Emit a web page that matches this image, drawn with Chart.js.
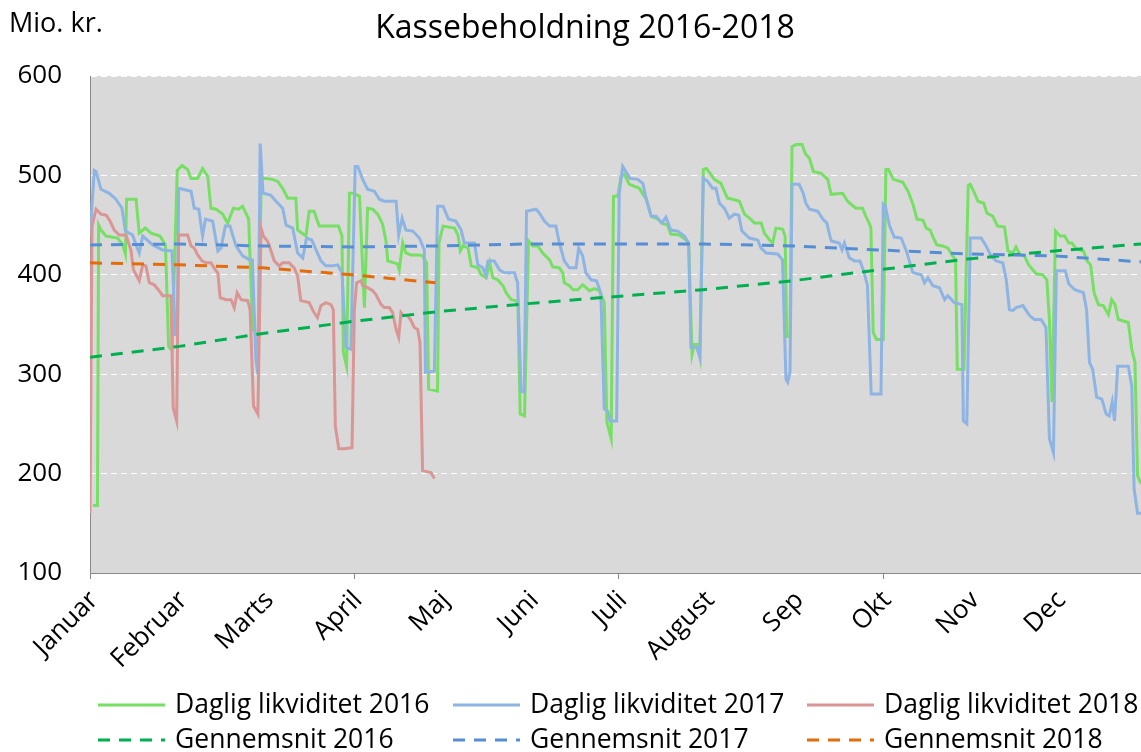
<!DOCTYPE html>
<html>
<head>
<meta charset="utf-8">
<title>Kassebeholdning 2016-2018</title>
<script src="https://cdn.jsdelivr.net/npm/chart.js@4.4.1/dist/chart.umd.min.js"></script>
<style>
  html, body { margin: 0; padding: 0; background: #fff; }
  canvas { display: block; }
</style>
</head>
<body>
<canvas id="kasseChart" width="1141" height="752"></canvas>
<script>
// x = day of the year, y = mio. kr.
const monthDays = [0, 31, 61, 91.7, 122, 153, 183.7, 214, 245, 275.4, 306, 336];
const monthNames = ['Januar', 'Februar', 'Marts', 'April', 'Maj', 'Juni', 'Juli', 'August', 'Sep', 'Okt', 'Nov', 'Dec'];
const yTicks = [100, 200, 300, 400, 500, 600];

const days16 = [1.0, 2.6, 3.0, 3.8, 5.6, 9.6, 11.4, 12.3, 12.7, 16.0, 17.1, 19.2, 21.2, 24.3, 26.2, 27.3, 28.5, 30.3, 32.0, 33.9, 35.1, 37.4, 39.1, 40.9, 42.0, 43.8, 46.1, 47.8, 49.8, 51.6, 53.0, 55.1, 56.5, 58.5, 59.5, 61.1, 63.4, 65.2, 66.9, 68.7, 71.5, 72.1, 75.0, 76.1, 77.8, 79.6, 86.3, 87.5, 88.0, 89.1, 90.1, 91.5, 93.6, 95.3, 96.4, 98.2, 99.9, 101.6, 102.8, 103.4, 106.8, 107.4, 108.6, 109.7, 111.5, 114.4, 115.5, 116.9, 117.6, 120.7, 121.2, 122.6, 126.6, 127.8, 128.6, 129.5, 131.3, 132.4, 134.7, 135.9, 137.6, 138.8, 139.9, 141.6, 143.4, 144.5, 146.3, 147.8, 148.6, 149.4, 150.9, 152.3, 153.8, 155.5, 157.2, 159.6, 160.7, 163.0, 164.2, 164.7, 166.5, 167.7, 169.4, 171.1, 173.5, 175.2, 176.9, 178.6, 179.5, 181.0, 181.8, 183.3, 184.4, 185.6, 187.3, 190.8, 192.0, 193.1, 194.9, 197.2, 198.6, 200.6, 201.7, 204.7, 207.0, 207.9, 209.1, 209.9, 211.0, 211.8, 213.0, 214.1, 215.6, 216.8, 219.1, 221.4, 223.2, 225.5, 227.3, 229.0, 230.8, 233.1, 234.2, 236.0, 237.1, 238.2, 240.5, 241.4, 242.0, 243.1, 243.8, 245.2, 247.3, 248.4, 249.9, 251.2, 253.9, 256.2, 257.4, 261.4, 263.1, 264.3, 266.0, 268.3, 269.4, 270.6, 271.2, 272.0, 273.1, 275.5, 276.4, 277.3, 279.0, 282.3, 284.1, 285.8, 287.2, 289.3, 290.4, 291.8, 292.9, 294.1, 296.1, 297.9, 299.6, 300.6, 301.2, 303.5, 305.0, 305.7, 306.9, 308.4, 310.4, 311.5, 313.5, 315.2, 317.6, 318.8, 320.5, 321.6, 322.8, 324.5, 326.0, 328.6, 330.9, 332.3, 333.2, 334.1, 335.3, 336.9, 338.5, 339.9, 341.0, 342.5, 345.0, 346.3, 347.5, 348.7, 350.2, 351.9, 353.7, 354.8, 356.0, 357.1, 360.6, 361.8, 362.9, 363.8, 365.0];
const liq16 = [168, 168, 450, 445, 439, 437, 430, 421, 476, 476, 442, 447, 442, 439, 430, 328, 324, 505, 510, 506, 497, 497, 507, 499, 467, 466, 461, 452, 467, 466, 469, 456, 345, 340, 497, 497, 496, 494, 487, 477, 477, 445, 439, 464, 464, 449, 449, 439, 322, 308, 482, 482, 479, 367, 467, 466, 461, 451, 434, 414, 411, 405, 432, 422, 420, 420, 419, 412, 285, 283, 432, 449, 447, 440, 424, 429, 427, 409, 407, 400, 397, 412, 397, 395, 389, 382, 375, 374, 372, 260, 258, 434, 429, 429, 422, 415, 408, 407, 402, 392, 389, 385, 385, 390, 384, 386, 384, 372, 252, 235, 479, 479, 499, 501, 491, 487, 481, 477, 459, 456, 452, 450, 441, 440, 435, 432, 320, 330, 330, 318, 506, 507, 501, 496, 492, 477, 476, 474, 461, 457, 452, 452, 442, 435, 432, 447, 446, 439, 338, 338, 529, 531, 531, 522, 517, 504, 502, 496, 481, 482, 474, 471, 467, 467, 459, 452, 447, 342, 335, 335, 506, 506, 496, 493, 484, 471, 456, 455, 447, 445, 437, 430, 429, 427, 419, 415, 305, 305, 490, 491, 484, 474, 472, 462, 459, 449, 448, 424, 422, 428, 421, 419, 410, 401, 400, 395, 355, 272, 444, 439, 439, 432, 432, 426, 424, 414, 410, 382, 370, 369, 360, 375, 370, 355, 352, 325, 312, 198, 190];

const days17 = [0, 1.5, 2.1, 3.8, 6.7, 9.0, 11.1, 12.3, 14.8, 16.0, 17.1, 18.3, 21.8, 25.2, 28.5, 29.6, 30.3, 30.8, 32.2, 35.1, 36.2, 37.8, 39.1, 40.1, 42.6, 44.4, 45.5, 47.0, 48.6, 50.7, 53.0, 55.5, 56.4, 57.6, 58.3, 59.1, 60.1, 61.6, 62.8, 64.6, 66.9, 68.1, 70.4, 72.1, 73.9, 75.2, 77.0, 78.5, 80.2, 81.9, 84.2, 86.0, 87.5, 88.9, 90.6, 92.1, 93.0, 94.7, 96.4, 98.8, 100.5, 102.2, 106.3, 107.2, 108.4, 109.7, 112.1, 114.4, 116.1, 116.5, 119.6, 120.7, 122.6, 124.5, 127.1, 128.9, 130.0, 133.5, 134.7, 136.4, 137.4, 138.2, 140.4, 142.2, 143.9, 147.4, 148.5, 149.7, 150.8, 151.6, 154.9, 156.1, 157.8, 159.6, 161.8, 163.0, 164.7, 166.5, 168.8, 169.7, 171.1, 172.2, 174.0, 175.9, 177.4, 178.6, 179.8, 180.6, 182.9, 183.8, 185.0, 187.5, 190.2, 192.0, 193.1, 194.9, 196.6, 198.6, 200.0, 201.7, 204.1, 206.4, 207.9, 208.7, 210.7, 211.8, 213.0, 214.5, 216.2, 217.4, 218.6, 220.3, 222.0, 223.8, 225.3, 226.4, 229.0, 231.9, 233.0, 234.8, 238.8, 240.5, 241.7, 242.3, 243.1, 243.8, 246.3, 247.7, 248.6, 249.9, 252.7, 254.5, 255.9, 257.4, 260.2, 261.2, 262.0, 263.7, 265.5, 267.4, 268.9, 270.0, 271.3, 274.7, 275.5, 276.2, 277.6, 279.3, 281.7, 283.4, 285.8, 288.7, 289.8, 291.0, 292.7, 295.0, 296.8, 297.9, 300.2, 302.8, 303.3, 304.5, 305.7, 309.5, 311.2, 312.9, 314.7, 317.0, 318.2, 319.3, 320.5, 321.6, 324.0, 326.3, 328.0, 330.3, 332.0, 333.2, 334.6, 335.6, 338.7, 339.9, 342.0, 345.0, 346.1, 347.1, 348.2, 349.6, 351.4, 352.9, 354.0, 355.0, 355.8, 356.9, 360.6, 361.8, 362.6, 363.8, 365.0];
const liq17 = [440, 505, 504, 486, 482, 476, 467, 444, 440, 430, 422, 439, 430, 425, 424, 340, 340, 487, 486, 484, 467, 466, 439, 456, 454, 424, 427, 449, 449, 429, 419, 415, 415, 315, 300, 532, 482, 481, 480, 474, 467, 450, 447, 422, 417, 437, 435, 425, 414, 409, 409, 410, 402, 327, 325, 509, 509, 496, 486, 484, 476, 474, 474, 440, 457, 445, 444, 437, 425, 302, 303, 469, 469, 456, 454, 445, 432, 432, 410, 407, 400, 414, 414, 405, 402, 402, 392, 283, 282, 464, 466, 462, 454, 449, 449, 432, 414, 407, 407, 427, 419, 402, 395, 394, 382, 265, 263, 253, 253, 482, 509, 497, 496, 492, 477, 459, 459, 452, 458, 445, 444, 439, 432, 327, 327, 317, 497, 494, 487, 487, 472, 467, 457, 461, 460, 444, 437, 435, 427, 422, 421, 415, 295, 292, 302, 491, 491, 482, 472, 466, 464, 456, 452, 434, 432, 425, 432, 417, 414, 414, 402, 389, 280, 280, 471, 469, 450, 438, 437, 425, 402, 400, 392, 397, 389, 387, 375, 379, 372, 370, 253, 250, 437, 437, 429, 419, 414, 412, 395, 365, 364, 367, 369, 359, 355, 355, 347, 235, 221, 404, 404, 391, 385, 382, 365, 312, 305, 277, 275, 260, 258, 272, 253, 308, 308, 288, 185, 160, 160];

const days18 = [0, 0.7, 2.1, 3.8, 5.6, 7.0, 8.4, 10.2, 12.5, 14.2, 15.1, 17.1, 18.3, 19.4, 20.6, 22.3, 24.0, 25.2, 28.1, 28.9, 30.1, 30.8, 33.9, 35.1, 36.2, 37.4, 38.9, 40.3, 42.0, 43.5, 44.4, 45.2, 47.2, 49.0, 50.1, 51.1, 52.5, 54.8, 55.6, 56.8, 58.3, 59.4, 60.2, 61.6, 62.2, 64.0, 65.7, 66.9, 69.2, 70.9, 72.1, 73.2, 76.1, 77.8, 79.0, 80.2, 81.9, 83.7, 84.5, 85.2, 86.4, 88.3, 91.0, 91.8, 92.6, 94.1, 94.7, 96.4, 98.2, 99.3, 101.1, 102.2, 104.0, 105.1, 106.3, 107.2, 108.0, 108.8, 110.3, 111.5, 112.6, 113.8, 114.6, 115.5, 118.4, 119.6];
const liq18 = [160, 449, 466, 461, 460, 454, 445, 440, 440, 425, 405, 394, 410, 409, 392, 390, 384, 379, 379, 266, 253, 440, 440, 429, 427, 420, 414, 412, 412, 405, 402, 377, 375, 375, 367, 382, 375, 374, 365, 268, 260, 447, 439, 434, 430, 414, 409, 412, 412, 407, 399, 374, 372, 362, 357, 369, 372, 370, 365, 248, 225, 225, 226, 365, 392, 394, 389, 387, 384, 380, 370, 367, 367, 362, 345, 337, 362, 359, 359, 354, 347, 345, 332, 203, 201, 195];

const avgDays = [0, 31, 60, 91, 121, 152, 182, 213, 244, 274, 305, 335, 365];
const avg16 = [317, 328, 341, 353, 363, 371, 378, 385, 394, 405, 416, 424, 431];
const avg17 = [430, 431, 429, 428, 429, 431, 431, 431, 429, 425, 421, 419, 413];
const avgDays18 = [0, 31, 60, 91, 120];
const avg18 = [412, 410, 407, 400, 392];

const FONT = "'Open Sans', sans-serif";

function pts(xs, ys) {
  return xs.map((x, i) => ({ x: x, y: ys[i] }));
}

const series = [
  { label: 'Daglig likviditet 2016', xs: days16, ys: liq16, color: '#77e064', dash: [], order: 5 },
  { label: 'Daglig likviditet 2017', xs: days17, ys: liq17, color: '#8eb4e3', dash: [], order: 4 },
  { label: 'Daglig likviditet 2018', xs: days18, ys: liq18, color: '#d99694', dash: [], order: 3 },
  { label: 'Gennemsnit 2016', xs: avgDays, ys: avg16, color: '#00b050', dash: [12, 9], order: 2 },
  { label: 'Gennemsnit 2017', xs: avgDays, ys: avg17, color: '#558ed5', dash: [12, 9], order: 1 },
  { label: 'Gennemsnit 2018', xs: avgDays18, ys: avg18, color: '#e46c0a', dash: [12, 9], order: 0 }
];

// grey plot background
const plotBg = {
  id: 'plotBg',
  beforeDraw(chart) {
    const { ctx, chartArea: a } = chart;
    ctx.save();
    ctx.fillStyle = '#d9d9d9';
    ctx.fillRect(a.left, a.top, a.right - a.left, a.bottom - a.top);
    ctx.restore();
  }
};

// title, unit and the 3 x 2 legend
const texts = {
  id: 'texts',
  afterDraw(chart) {
    const ctx = chart.ctx;
    ctx.save();
    ctx.fillStyle = '#000';
    ctx.textBaseline = 'middle';
    ctx.textAlign = 'center';
    ctx.font = '32px ' + FONT;
    ctx.fillText('Kassebeholdning 2016-2018', 585, 29);
    ctx.textAlign = 'left';
    ctx.font = '27px ' + FONT;
    ctx.fillText('Mio. kr.', 9, 24);

    ctx.font = '26.5px ' + FONT;
    const colX = [98, 453, 807];
    const rowY = [705, 740];
    series.forEach((s, i) => {
      const x = colX[i % 3];
      const y = rowY[Math.floor(i / 3)];
      ctx.strokeStyle = s.color;
      ctx.lineWidth = 3;
      ctx.setLineDash(s.dash);
      ctx.beginPath();
      ctx.moveTo(x, y);
      ctx.lineTo(x + 67, y);
      ctx.stroke();
      ctx.setLineDash([]);
      ctx.fillText(s.label, x + 77, y);
    });
    ctx.restore();
  }
};

const ctx = document.getElementById('kasseChart').getContext('2d');

const config = {
  type: 'line',
  data: {
    datasets: series.map(s => ({
      label: s.label,
      data: pts(s.xs, s.ys),
      borderColor: s.color,
      backgroundColor: s.color,
      borderWidth: 3,
      borderDash: s.dash,
      pointRadius: 0,
      tension: 0,
      fill: false,
      order: s.order
    }))
  },
  options: {
    responsive: false,
    animation: false,
    events: [],
    layout: { padding: { top: 76, left: 0, right: 0, bottom: 0 } },
    plugins: {
      legend: { display: false },
      title: { display: false },
      tooltip: { enabled: false }
    },
    scales: {
      x: {
        type: 'linear',
        min: 0,
        max: 365,
        afterBuildTicks: scale => { scale.ticks = monthDays.map(v => ({ value: v })); },
        afterFit: scale => { scale.height = 179; },
        ticks: {
          autoSkip: false,
          minRotation: 45,
          maxRotation: 45,
          padding: 6,
          labelOffset: 4,
          color: '#000',
          font: { family: FONT, size: 26 },
          callback: (value, index) => monthNames[index]
        },
        grid: {
          drawOnChartArea: false,
          drawTicks: true,
          tickLength: 6,
          color: '#898989',
          tickColor: c => (c.index % 3 === 0 ? '#898989' : 'rgba(0,0,0,0)')
        },
        border: { color: '#898989', width: 1 }
      },
      y: {
        min: 100,
        max: 600,
        afterBuildTicks: scale => { scale.ticks = yTicks.map(v => ({ value: v })); },
        afterFit: scale => { scale.width = 90; },
        ticks: {
          padding: 28,
          color: '#000',
          font: { family: FONT, size: 26 }
        },
        grid: {
          drawTicks: false,
          lineWidth: 1,
          color: c => (c.tick && c.tick.value === 100 ? 'rgba(0,0,0,0)' : '#ffffff')
        },
        border: { color: '#898989', width: 1, dash: [6, 4] }
      }
    }
  },
  plugins: [plotBg, texts]
};

const kasseChart = new Chart(ctx, config);
</script>
</body>
</html>
